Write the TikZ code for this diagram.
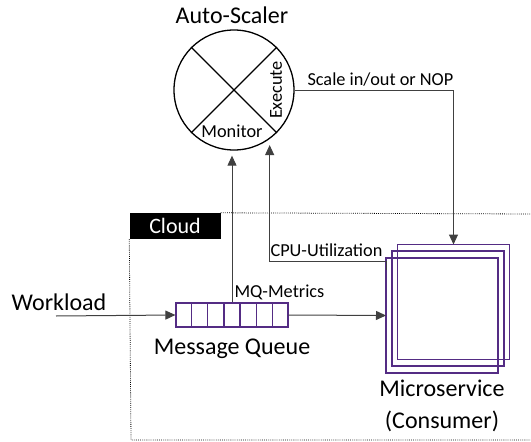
\documentclass[tikz,border=0pt]{standalone}
\usepackage{fontspec}
\setmainfont{Carlito}
\usetikzlibrary{arrows.meta,calc,positioning}
\definecolor{mspurple}{RGB}{84,44,132}
\definecolor{lnk}{RGB}{64,64,64}
\tikzset{
  big/.style={font=\fontsize{24}{28}\selectfont},
  small/.style={font=\fontsize{18.3}{21}\selectfont},
  flow/.style={draw=lnk, line width=1pt, -{Triangle[length=10pt,width=9pt]}},
  msframe/.style={minimum width=112pt, minimum height=115pt, inner sep=0pt, outer sep=0pt},
  cloudline/.style={line width=0.8pt, dash pattern=on 0.8pt off 1.3pt}
}
\begin{document}
\begin{tikzpicture}[x=1pt,y=-1pt]
  \useasboundingbox (0,0) rectangle (531,442);
  % auto-scaler
  \node[draw, circle, line width=1.3pt, minimum size=120pt] (as) at (234,90) {};
  \draw[line width=1.3pt] (as.135) -- (as.-45);
  \draw[line width=1.3pt] (as.45) -- (as.-135);
  \node[big] (title) at (232,15) {Auto-Scaler};
  \node[small, rotate=90] (exec) at (276,90) {Execute};
  \node[small] (mon) at (232,131) {Monitor};

  % cloud
  \node[fill=black, text=white, font=\fontsize{22}{25}\selectfont, minimum width=91pt, minimum height=26pt] (cloud) at (175,226) {Cloud};
  \coordinate (c1) at (531,214);
  \coordinate (c2) at (131,440);
  \coordinate (c3) at (531,440);
  \draw[cloudline] (cloud.north east) -- (c1);
  \draw[cloudline] (cloud.south west) -- (c2) -- (c3);

  % message queue
  \node[draw=mspurple, line width=1.2pt, minimum width=112pt, minimum height=24pt] (mq) at (232,315) {};
  \foreach \i in {1,...,6}
    \draw[mspurple, line width=1.2pt] ($(mq.north west)!\i/7!(mq.north east)$) -- ($(mq.south west)!\i/7!(mq.south east)$);
  \node[big, below=8pt of mq] (mqlabel) {Message Queue};

  % microservice
  \node[msframe] (ms3) at (453.5,302) {};
  \node[msframe] (ms2) at (448,308.5) {};
  \node[msframe] (ms1) at (442,315.5) {};
  \foreach \m in {ms3,ms2,ms1}
    \draw[mspurple, line width=1.3pt] (\m.north west) rectangle (\m.south east);
  \node[big, align=center, below=3pt of ms1] (mslabel) {Microservice\\[4pt](Consumer)};

  % workload
  \coordinate (wl) at (56,316);
  \node[big] (wllabel) at (59,302) {Workload};
  \draw[flow] (wl) -- (mq.west);
  \draw[flow] (mq.east) -- (ms1.west);

  % metrics and actions
  \draw[flow, shorten >=5pt] (mq.north) -- (mq.north |- as.south);
  \node[small, anchor=west] (mqm) at (231,292) {MQ-Metrics};
  \draw[flow, shorten >=6pt] ([yshift=-12pt]ms1.north west) |- ++(0,-9) -| (as.-54);
  \node[small, anchor=west] (cpu) at (267,250) {CPU-Utilization};
  \draw[flow] (as.east) -| node[small, above, pos=0.27] (scale) {Scale in/out or NOP} (ms3.north);
\end{tikzpicture}
\end{document}
